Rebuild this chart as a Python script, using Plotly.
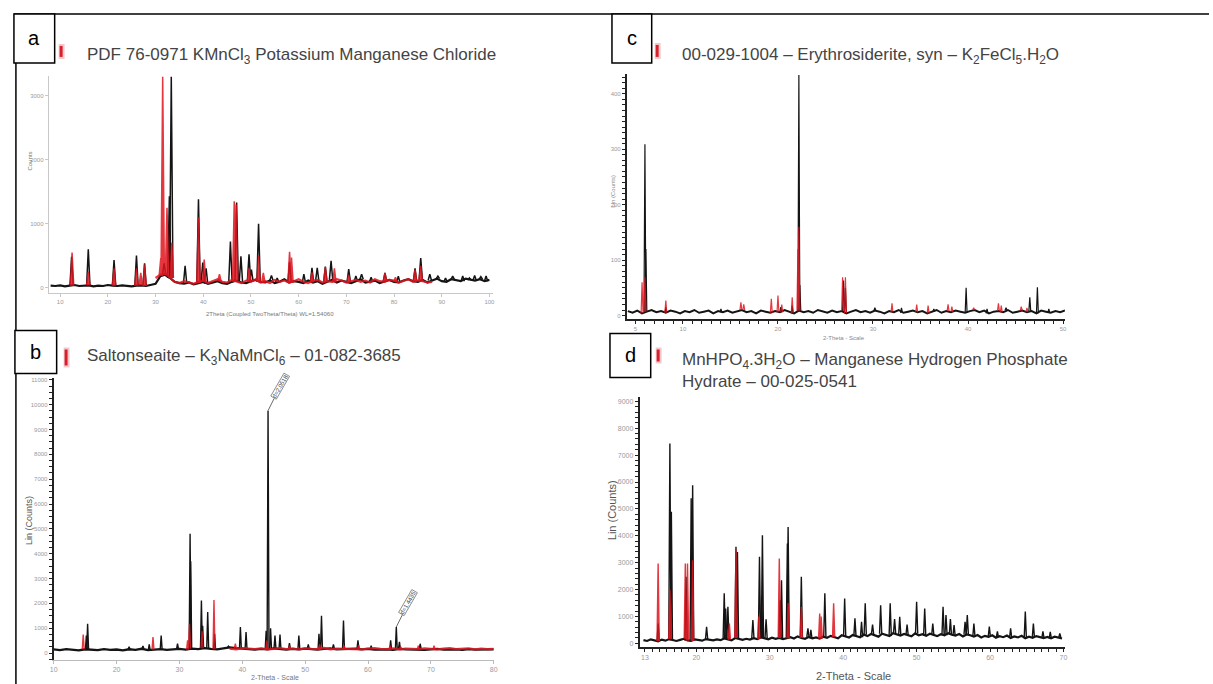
import plotly.graph_objects as go

W, H = 1213, 684

# ---------------- Panel a : KMnCl3 ----------------
a_base_start, a_base_step = 8, 1
a_base = [30, 25, 35, 20, 30, 40, 25, 30, 35, 20,
          30, 25, 40, 30, 25, 35, 30, 20, 30, 35,
          25, 40, 60, 180, 200, 150, 90, 70, 60, 80,
          50, 70, 90, 60, 80, 100, 70, 60, 90, 110,
          80, 70, 100, 120, 90, 80, 110, 70, 90, 130,
          80, 100, 90, 70, 110, 80, 100, 60, 90, 120,
          80, 110, 90, 70, 100, 130, 80, 90, 110, 70,
          100, 120, 90, 80, 110, 130, 100, 90, 120, 80,
          110, 140, 100, 90, 130, 110, 100, 140, 120, 110,
          130, 100, 120]
a_red_base_start, a_red_base_step = 30, 1
a_red_base = [150, 200, 220, 160, 90, 70, 100, 80, 60, 90,
              110, 70, 100, 130, 90, 80, 120, 100, 70, 110,
              90, 130, 80, 100, 70, 120, 90, 110, 80, 100,
              130, 90, 70, 110, 120, 80, 100, 90, 130, 110,
              80, 100, 120, 90, 110, 80, 130, 100, 90, 120,
              110, 80, 100, 130, 90, 110, 100, 80, 90]
a_black_pos = [12.4, 15.9, 21.3, 26.0, 27.7, 31.8, 32.9, 33.3, 36.2, 39.0, 39.9, 40.6,
               45.7, 47.0, 47.9, 49.6, 50.1, 51.6, 54.3, 55.5, 58.1, 61.1, 62.8, 63.9,
               65.6, 66.8, 70.5, 72.0, 73.2, 75.2, 78.1, 80.9, 84.4, 85.6, 87.5, 89.2,
               90.8, 92.3, 94.4, 95.8, 96.9, 98.2, 99.3]
a_black_int = [480, 600, 430, 500, 380, 380, 1430, 3300, 340, 1380, 390, 300,
               720, 1330, 490, 520, 280, 1000, 190, 150, 400, 210, 310, 310,
               330, 420, 290, 180, 210, 160, 230, 180, 300, 460, 210, 180,
               150, 180, 180, 150, 190, 170, 180]
a_red_pos = [12.5, 15.9, 21.3, 26.0, 26.9, 27.7, 31.1, 31.5, 32.4, 33.4, 39.0, 40.2,
             43.4, 46.5, 46.9, 49.6, 51.6, 52.6, 58.1, 58.5, 62.8, 65.6, 67.5, 70.5,
             78.1, 80.3, 84.4, 85.6]
a_red_int = [550, 250, 300, 300, 230, 360, 460, 3300, 1250, 700, 1100, 440,
             210, 1350, 1300, 300, 500, 230, 560, 470, 240, 320, 300, 200,
             230, 160, 280, 340]
a_xticks = [10, 20, 30, 40, 50, 60, 70, 80, 90, 100]
a_yticks = [0, 1000, 2000, 3000]

# ---------------- Panel b : Saltonseaite ----------------
b_base_start, b_base_step = 10, 1
b_base = [150, 120, 160, 130, 110, 150, 140, 120, 160, 130,
          140, 110, 150, 130, 170, 120, 140, 160, 130, 150,
          170, 140, 180, 160, 200, 170, 150, 190, 230, 200,
          180, 160, 140, 170, 150, 190, 160, 140, 170, 150,
          180, 160, 140, 170, 190, 150, 160, 140, 180, 150,
          170, 140, 160, 150, 130, 170, 150, 140, 160, 130,
          150, 170, 140, 160, 150, 130, 160, 140, 150, 130,
          150]
b_red_base_start, b_red_base_step = 38, 1
b_red_base = [180, 150, 200, 170, 160, 190, 150, 170, 200, 160,
              180, 150, 190, 170, 160, 200, 150, 180, 170, 190,
              160, 150, 180, 200, 170, 160, 190, 150, 180, 170,
              160, 190, 170, 150, 180, 200, 160, 170, 190, 150,
              180, 160, 170]
b_black_pos = [15.2, 15.4, 22.0, 24.2, 25.2, 27.1, 29.7, 31.7, 31.8, 33.5, 33.7, 34.5,
               35.6, 37.8, 39.7, 40.6, 43.8, 44.1, 44.5, 45.2, 46.0, 47.5, 49.0, 50.5,
               52.2, 52.6, 54.5, 56.1, 58.4, 60.5, 63.6, 64.5, 65.0, 68.3]
b_black_int = [700, 1180, 250, 280, 350, 710, 375, 4800, 3700, 2120, 1100, 1650,
               780, 280, 1050, 845, 900, 9760, 1000, 710, 750, 400, 710, 350,
               780, 1500, 350, 1310, 510, 300, 510, 1050, 450, 375]
b_red_pos = [14.7, 25.8, 31.3, 31.6, 33.6, 35.5, 38.9, 43.9, 47.5, 52.3, 56.2, 58.5,
             63.5, 65.2, 68.0, 70.5]
b_red_int = [750, 640, 510, 1180, 880, 2140, 375, 500, 300, 350, 300, 320,
             300, 250, 300, 300]
b_xticks = [10, 20, 30, 40, 50, 60, 70, 80]
b_yticks = [0, 1000, 2000, 3000, 4000, 5000, 6000, 7000, 8000, 9000, 10000, 11000]
b_labels = ["d=2.0518", "d=1.4435"]
b_label_pos = [44.1, 64.5]
b_label_int = [9760, 1050]

# ---------------- Panel c : Erythrosiderite ----------------
c_base_start, c_base_step = 4.2, 0.5
c_base = [8, 5, 9, 4, 7, 10, 6, 8, 5, 9,
          7, 4, 8, 6, 10, 5, 7, 9, 4, 8,
          6, 9, 5, 7, 10, 6, 8, 4, 9, 7,
          5, 8, 6, 10, 7, 4, 9, 6, 8, 5,
          10, 7, 5, 9, 6, 8, 4, 7, 10, 6,
          8, 5, 9, 7, 4, 8, 6, 10, 5, 7,
          9, 6, 8, 4, 7, 10, 5, 8, 6, 9,
          7, 5, 8, 10, 6, 9, 4, 7, 8, 6,
          10, 5, 7, 9, 6, 8, 4, 9, 7, 5,
          8, 6, 9]
c_black_pos = [6.0, 6.1, 8.2, 14.0, 20.3, 21.5, 22.2, 22.3, 26.9, 27.1, 30.2, 33.0,
               36.4, 39.8, 42.0, 44.0, 46.5, 47.3, 48.5]
c_black_int = [309, 120, 15, 12, 15, 18, 434, 55, 63, 50, 14, 14,
               12, 50, 12, 14, 33, 51, 12]
c_red_pos = [5.7, 6.0, 8.2, 16.1, 16.4, 19.3, 20.0, 20.4, 21.5, 22.1, 22.2, 26.8,
             27.1, 32.0, 34.6, 35.8, 37.9, 38.3, 40.6, 43.2, 43.5, 45.6, 46.2]
c_red_int = [60, 69, 27, 24, 20, 30, 36, 20, 33, 120, 160, 69,
             69, 22, 20, 18, 20, 16, 14, 22, 18, 16, 14]
c_xticks = [5, 10, 20, 30, 40, 50]
c_yticks = [0, 100, 200, 300, 400]

# ---------------- Panel d : MnHPO4.3H2O ----------------
d_base_start, d_base_step = 12.8, 0.5
d_base = [120, 90, 150, 110, 80, 140, 100, 160, 120, 90,
          130, 170, 110, 90, 150, 120, 100, 160, 130, 110,
          150, 120, 180, 140, 110, 200, 160, 130, 170, 140,
          190, 160, 220, 180, 150, 210, 170, 200, 160, 190,
          230, 180, 260, 200, 170, 240, 190, 220, 180, 250,
          210, 280, 230, 190, 300, 250, 220, 310, 260, 230,
          330, 270, 350, 290, 250, 360, 300, 270, 380, 320,
          290, 350, 310, 260, 370, 300, 340, 280, 360, 310,
          270, 340, 300, 380, 320, 290, 350, 260, 330, 300,
          250, 310, 220, 280, 240, 300, 210, 270, 230, 290,
          200, 260, 220, 280, 190, 250, 210, 270, 230, 200,
          240, 190, 250, 210, 180]
d_black_pos = [14.8, 16.4, 16.6, 18.6, 19.3, 19.5, 21.4, 23.8, 24.0, 24.3, 25.4, 25.6,
               27.7, 28.6, 28.9, 29.0, 29.5, 31.4, 31.6, 32.4, 32.5, 34.3, 35.2, 35.6,
               37.5, 40.2, 41.6, 42.5, 43.0, 44.0, 45.1, 46.4, 47.0, 47.7, 48.7, 50.0,
               51.1, 52.2, 53.6, 54.0, 54.6, 55.1, 56.6, 56.9, 57.8, 59.9, 61.0, 62.8,
               64.8, 65.9, 67.2, 68.2, 69.5]
d_black_int = [740, 7430, 4890, 2480, 5400, 5880, 620, 1860, 1300, 1360, 3590, 3400,
               870, 3220, 1730, 4020, 900, 1600, 2350, 3710, 4330, 2480, 560, 500,
               1860, 1670, 930, 800, 1490, 700, 1420, 1490, 900, 990, 700, 1550,
               1300, 740, 1360, 1050, 900, 680, 800, 1050, 740, 620, 450, 560,
               1180, 740, 450, 430, 370]
d_red_pos = [14.8, 16.4, 18.5, 18.8, 19.5, 24.5, 25.4, 28.5, 31.3, 32.5, 34.3, 36.8,
             37.0, 38.7]
d_red_int = [2970, 1980, 2970, 2970, 3090, 740, 3470, 1000, 3160, 1500, 1360, 1110,
             1000, 1490]
d_xticks = [13, 20, 30, 40, 50, 60, 70]
d_yticks = [0, 1000, 2000, 3000, 4000, 5000, 6000, 7000, 8000, 9000]

titles = [
    "PDF 76-0971 KMnCl<sub>3</sub> Potassium Manganese Chloride",
    "Saltonseaite – K<sub>3</sub>NaMnCl<sub>6</sub> – 01-082-3685",
    "00-029-1004 – Erythrosiderite, syn – K<sub>2</sub>FeCl<sub>5</sub>.H<sub>2</sub>O",
    "MnHPO<sub>4</sub>.3H<sub>2</sub>O – Manganese Hydrogen Phosphate<br>Hydrate – 00-025-0541",
]
panel_letters = ["a", "b", "c", "d"]

BLACK = "#141414"
RED = "#e0141e"
FONT = "Liberation Sans"


def base_xy(start, step, vals):
    return [start + i * step for i in range(len(vals))], list(vals)


def peaks_xy(pos, ints, w, start, step, base):
    xs, ys = [], []
    for p, h in zip(pos, ints):
        i = int(round((p - start) / step))
        i = min(max(i, 0), len(base) - 1)
        b = base[i]
        xs += [p - w, p, p + w, None]
        ys += [b, h, b, None]
    return xs, ys


fig = go.Figure()


def add_panel(k, base, red_base, bpos, bint, rpos, rint, w, fill_red, lw, blw):
    xa = "x" if k == 1 else f"x{k}"
    ya = "y" if k == 1 else f"y{k}"
    bx, by = base_xy(*base)
    fig.add_trace(go.Scatter(x=bx, y=by, mode="lines", xaxis=xa, yaxis=ya,
                             line=dict(color=BLACK, width=blw), hoverinfo="skip"))
    px, py = peaks_xy(bpos, bint, w, *base)
    fig.add_trace(go.Scatter(x=px, y=py, mode="lines", xaxis=xa, yaxis=ya,
                             line=dict(color=BLACK, width=lw), hoverinfo="skip"))
    if red_base is not None:
        rx, ry = base_xy(*red_base)
        fig.add_trace(go.Scatter(x=rx, y=ry, mode="lines", xaxis=xa, yaxis=ya, opacity=0.85,
                                 line=dict(color=RED, width=blw), hoverinfo="skip"))
    qx, qy = peaks_xy(rpos, rint, w, *base)
    fig.add_trace(go.Scatter(x=qx, y=qy, mode="lines", xaxis=xa, yaxis=ya, opacity=0.85,
                             fill="toself" if fill_red else None, fillcolor=RED,
                             line=dict(color=RED, width=lw), hoverinfo="skip"))


add_panel(1, (a_base_start, a_base_step, a_base), (a_red_base_start, a_red_base_step, a_red_base),
          a_black_pos, a_black_int, a_red_pos, a_red_int, 0.35, True, 1.5, 2.2)
add_panel(2, (b_base_start, b_base_step, b_base), (b_red_base_start, b_red_base_step, b_red_base),
          b_black_pos, b_black_int, b_red_pos, b_red_int, 0.15, False, 1.4, 2.4)
add_panel(3, (c_base_start, c_base_step, c_base), None,
          c_black_pos, c_black_int, c_red_pos, c_red_int, 0.1, False, 1.2, 2.0)
add_panel(4, (d_base_start, d_base_step, d_base), None,
          d_black_pos, d_black_int, d_red_pos, d_red_int, 0.15, True, 1.4, 2.2)


def dom_x(x0, x1):
    return [x0 / W, x1 / W]


def dom_y(top, bottom):
    return [1 - bottom / H, 1 - top / H]


def axis(domain, rng, tickvals, anchor, linecolor, minor=None, tsize=6, ticklen=3, lw=1.0):
    d = dict(domain=domain, range=rng, tickmode="array", tickvals=tickvals,
             ticktext=[str(v) for v in tickvals], anchor=anchor,
             ticks="outside", ticklen=ticklen, tickcolor=linecolor, tickwidth=1.2,
             showline=True, linecolor=linecolor, linewidth=lw, layer="above traces",
             showgrid=False, zeroline=False, fixedrange=True,
             tickfont=dict(size=tsize, color="#9a9a9a", family=FONT))
    if minor:
        d["minor"] = dict(tickmode="linear", tick0=0, dtick=minor, ticks="outside",
                          ticklen=3, tickwidth=1.2, tickcolor=linecolor, showgrid=False)
    return d


layout = dict(
    width=W, height=H, margin=dict(l=0, r=0, t=0, b=0),
    paper_bgcolor="white", plot_bgcolor="white", showlegend=False,
    font=dict(family=FONT),
    xaxis=axis(dom_x(45, 492), [7.6, 100.7], a_xticks, "y", "#c8c8c8"),
    yaxis=axis(dom_y(75, 292), [-78, 3312], a_yticks, "x", "#c8c8c8"),
    xaxis2=axis(dom_x(50, 493), [10, 80], b_xticks, "y2", "#bbbbbb", tsize=7),
    yaxis2=axis(dom_y(378, 660), [-281, 11057], b_yticks, "x2", "#222222", minor=250, lw=2, tsize=6),
    xaxis3=axis(dom_x(627, 1068), [4.1, 50.2], c_xticks, "y3", "#222222", minor=1, lw=2),
    yaxis3=axis(dom_y(73, 318), [-5.4, 436], c_yticks, "x3", "#222222", minor=10, lw=2),
    xaxis4=axis(dom_x(640, 1068), [12.3, 70.2], d_xticks, "y4", "#222222", minor=1, lw=2, tsize=7),
    yaxis4=axis(dom_y(397, 647), [-137, 9146], d_yticks, "x4", "#222222", minor=200, lw=2, tsize=7),
)
fig.update_layout(**layout)

shapes = []
annotations = []


def px_line(x0, y0, x1, y1, w=1.5, color="black"):
    shapes.append(dict(type="line", xref="paper", yref="paper",
                       x0=x0 / W, x1=x1 / W, y0=1 - y0 / H, y1=1 - y1 / H,
                       line=dict(color=color, width=w)))


def px_rect(x0, y0, x1, y1, line="black", fill="white", w=1.5):
    shapes.append(dict(type="rect", xref="paper", yref="paper",
                       x0=x0 / W, x1=x1 / W, y0=1 - y1 / H, y1=1 - y0 / H,
                       line=dict(color=line, width=w), fillcolor=fill))


def px_text(x, y, text, size, color="#444", xanchor="left", angle=0):
    annotations.append(dict(xref="paper", yref="paper", x=x / W, y=1 - y / H,
                            text=text, showarrow=False, xanchor=xanchor, yanchor="middle",
                            align="left" if xanchor == "left" else "center",
                            textangle=angle, font=dict(size=size, color=color, family=FONT)))


# frame lines
px_line(10, 13, W, 13)
px_line(12, 13, 12, H)

# panel letter boxes
boxes = [(10, 13, 51, 62), (11, 330, 53, 373), (612, 13, 652, 62), (610, 333, 651, 377)]
for (x0, y0, x1, y1), letter in zip(boxes, panel_letters):
    px_rect(x0, y0, x1, y1)
    px_text((x0 + x1) / 2, (y0 + y1) / 2, letter, 20, color="black", xanchor="center")

# red legend markers
markers = [(56, 43, 60, 58), (61, 347, 65, 367), (656, 42, 660, 58), (657, 347, 661, 363)]
for (x0, y0, x1, y1) in markers:
    px_rect(x0 - 1, y0, x1 + 1, y1, line="rgba(0,0,0,0)", fill="#f4c8cc", w=0)
    px_rect(x0, y0 + 2, x1 - 1, y1 - 2, line="rgba(0,0,0,0)", fill="#d8202c", w=0)

# titles
px_text(82, 55, titles[0], 17)
px_text(82, 357, titles[1], 17)
px_text(680, 55, titles[2], 17)
px_text(680, 370, titles[3], 17)

# axis titles
px_text(26, 160, "Counts", 6, color="#777", xanchor="center", angle=-90)
px_text(268, 313, "2Theta (Coupled TwoTheta/Theta) WL=1.54060", 6, color="#777", xanchor="center")
px_text(25, 520, "Lin (Counts)", 9, color="#555", xanchor="center", angle=-90)
px_text(273, 677, "2-Theta - Scale", 7, color="#777", xanchor="center")
px_text(613, 190, "Lin (Counts)", 6, color="#888", xanchor="center", angle=-90)
px_text(846, 337, "2-Theta - Scale", 6, color="#888", xanchor="center")
px_text(612, 510, "Lin (Counts)", 11, color="#555", xanchor="center", angle=-90)
px_text(855, 676, "2-Theta - Scale", 11, color="#555", xanchor="center")

# peak labels in panel b
for t, p, h in zip(b_labels, b_label_pos, b_label_int):
    annotations.append(dict(xref="x2", yref="y2", x=p, y=h, text=t, showarrow=True,
                            arrowhead=0, arrowwidth=0.8, arrowcolor="#444",
                            ax=12, ay=-24, textangle=-60, borderpad=0,
                            bordercolor="#555", borderwidth=0.6, bgcolor="white",
                            font=dict(size=6, color="#444", family=FONT)))

fig.update_layout(shapes=shapes, annotations=annotations)
fig.write_html("out.html")
